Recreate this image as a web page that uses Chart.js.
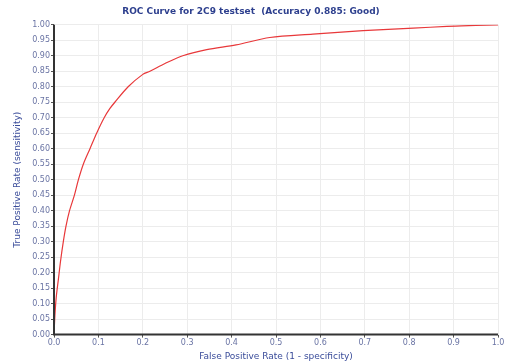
<!DOCTYPE html>
<html lang="en">
<head>
  <meta charset="UTF-8" />
  <title>ROC Curve</title>
  <script src="https://cdn.jsdelivr.net/npm/chart.js"></script>
  <style>
    html, body { margin: 0; padding: 0; background: #fff; }
    #wrap { width: 506px; height: 364px; }
  </style>
</head>
<body>
  <div id="wrap"><canvas id="roc" width="506" height="364"></canvas></div>

  <script>
    // curve
    const fpr = [0, 0.002, 0.005, 0.010, 0.015, 0.021, 0.027, 0.035, 0.046, 0.055, 0.066, 0.081,
                 0.096, 0.113, 0.126, 0.137, 0.167, 0.200, 0.216, 0.250, 0.290, 0.344, 0.410,
                 0.486, 0.583, 0.696, 0.809, 0.885, 0.950, 1.000];
    const tpr = [0, 0.06, 0.12, 0.18, 0.24, 0.30, 0.35, 0.40, 0.45, 0.50, 0.55, 0.60,
                 0.65, 0.70, 0.73, 0.75, 0.80, 0.84, 0.85, 0.875, 0.90, 0.92, 0.935,
                 0.959, 0.970, 0.981, 0.989, 0.995, 0.998, 1.000];

    const titleText = "ROC Curve for 2C9 testset  (Accuracy 0.885: Good)";
    const xTitle = "False Positive Rate (1 - specificity)";
    const yTitle = "True Positive Rate (sensitivity)";

    const points = fpr.map((x, i) => ({ x: x, y: tpr[i] }));

    // left and bottom axis lines drawn darker
    const axisLines = {
      id: "axisLines",
      afterDraw(chart) {
        const a = chart.chartArea, c = chart.ctx;
        c.save();
        c.strokeStyle = "#333";
        c.lineWidth = 2;
        c.beginPath();
        c.moveTo(a.left, a.top);
        c.lineTo(a.left, a.bottom);
        c.lineTo(a.right, a.bottom);
        c.stroke();
        c.restore();
      }
    };

    new Chart(document.getElementById("roc"), {
      type: "line",
      data: {
        datasets: [{
          data: points,
          borderColor: "#e8383a",
          borderWidth: 1.2,
          pointRadius: 0,
          fill: false,
          tension: 0.3
        }]
      },
      options: {
        responsive: false,
        animation: false,
        layout: { padding: { left: 4, right: 8, top: 0, bottom: 2 } },
        plugins: {
          legend: { display: false },
          tooltip: { enabled: false },
          title: {
            display: true,
            text: titleText,
            color: "#2d3f8e",
            font: { family: "DejaVu Sans", size: 9, weight: "bold" },
            padding: { top: 6, bottom: 8 }
          }
        },
        scales: {
          x: {
            type: "linear",
            min: 0, max: 1,
            ticks: {
              stepSize: 0.1,
              color: "#6a74a4",
              font: { family: "DejaVu Sans", size: 8 },
              padding: 1,
              callback: v => v.toFixed(1)
            },
            grid: { color: "#ececec", tickLength: 3, tickColor: "#555" },
            border: { display: false },
            title: {
              display: true, text: xTitle, color: "#3a4c9a",
              font: { family: "DejaVu Sans", size: 9 }, padding: { top: 2, bottom: 0 }
            }
          },
          y: {
            min: 0, max: 1,
            ticks: {
              stepSize: 0.05,
              color: "#6a74a4",
              font: { family: "DejaVu Sans", size: 8 },
              padding: 1,
              callback: v => v.toFixed(2)
            },
            grid: { color: "#ececec", tickLength: 3, tickColor: "#555" },
            border: { display: false },
            title: {
              display: true, text: yTitle, color: "#3a4c9a",
              font: { family: "DejaVu Sans", size: 9 }, padding: { top: 8, bottom: 2 }
            },
            afterFit(scale) { scale.width = 50; }
          }
        }
      },
      plugins: [axisLines]
    });
  </script>
</body>
</html>
